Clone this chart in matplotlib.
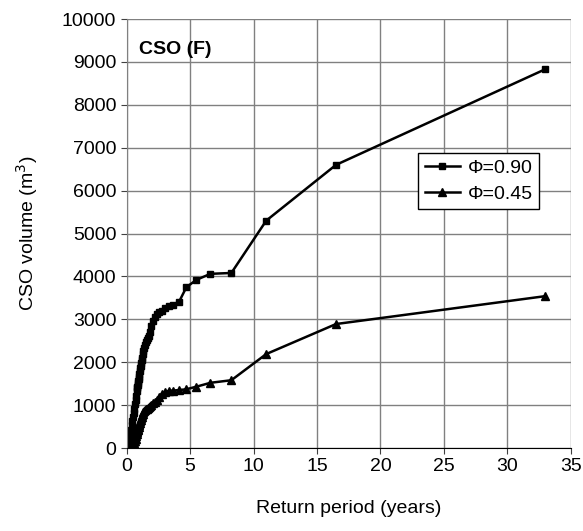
import matplotlib
matplotlib.use("Agg")
import matplotlib.pyplot as plt

plt.rcParams['font.family'] = ['Liberation Sans', 'DejaVu Sans']

# return period (years), ranked events
T = [33.0, 16.5, 11.0, 8.25, 6.6, 5.5, 4.71, 4.13, 3.67, 3.3, 3.0, 2.75, 2.54,
     2.36, 2.2, 2.06, 1.94, 1.83, 1.74, 1.65, 1.57, 1.5, 1.43, 1.38, 1.32, 1.27,
     1.22, 1.18, 1.14, 1.1, 1.06, 1.03, 1.0, 0.97, 0.94, 0.92, 0.89, 0.87, 0.85,
     0.83, 0.8, 0.75, 0.7, 0.66, 0.6, 0.55, 0.5, 0.45, 0.4, 0.35, 0.3, 0.25,
     0.2, 0.15, 0.1]

# CSO volume (m3), phi = 0.90
vol_090 = [8830, 6600, 5300, 4080, 4060, 3920, 3750, 3410, 3340, 3310, 3260, 3200,
           3170, 3130, 3050, 2960, 2850, 2700, 2620, 2560, 2510, 2480, 2400, 2330,
           2250, 2180, 2100, 2040, 1980, 1920, 1860, 1800, 1720, 1660, 1610, 1560,
           1510, 1470, 1430, 1390, 1320, 1220, 1110, 1030, 920, 820, 720, 620, 530,
           430, 330, 230, 140, 40, 0]

# CSO volume (m3), phi = 0.45
vol_045 = [3540, 2890, 2190, 1580, 1520, 1430, 1370, 1350, 1340, 1330, 1310, 1260,
           1180, 1120, 1080, 1040, 1000, 980, 960, 940, 920, 900, 880, 860, 830,
           800, 760, 730, 700, 660, 620, 590, 560, 530, 500, 480, 440, 420, 400,
           370, 330, 270, 210, 170, 110, 60, 30, 10, 0, 0, 0, 0, 0, 0, 0]

fig = plt.figure(figsize=(5.83, 5.31), dpi=100)
ax = fig.add_axes([0.2173, 0.1563, 0.7616, 0.8079])

ax.plot(T, vol_090, color='black', lw=1.8, marker='s', ms=4.8, label='\u03a6=0.90')
ax.plot(T, vol_045, color='black', lw=1.8, marker='^', ms=6, label='\u03a6=0.45')

ax.set_xlim(0, 35)
ax.set_ylim(0, 10000)
ax.set_xticks(range(0, 36, 5))
ax.set_yticks(range(0, 10001, 1000))
ax.grid(True, color='#808080', lw=1)
ax.set_axisbelow(True)
for s in ['top', 'right']:
    ax.spines[s].set_visible(False)
ax.spines['left'].set_color('#808080')
ax.spines['bottom'].set_color('black')
ax.tick_params(labelsize=14, length=4, color='#404040')

ax.set_xlabel('Return period (years)', fontsize=14, labelpad=18)
ax.set_ylabel('CSO volume (m$^3$)', fontsize=14, labelpad=16)

ax.text(0.028, 0.93, 'CSO (F)', transform=ax.transAxes, fontsize=14,
        fontweight='bold', va='center')

leg = ax.legend(loc='upper left', bbox_to_anchor=(0.656, 0.688), borderaxespad=0,
                fontsize=14, frameon=True, fancybox=False, handlelength=1.8,
                handletextpad=0.4, borderpad=0.35, labelspacing=0.4)
leg.get_frame().set_edgecolor('black')
leg.get_frame().set_linewidth(1)
leg.get_frame().set_alpha(1)

fig.savefig('out.png', dpi=100)
